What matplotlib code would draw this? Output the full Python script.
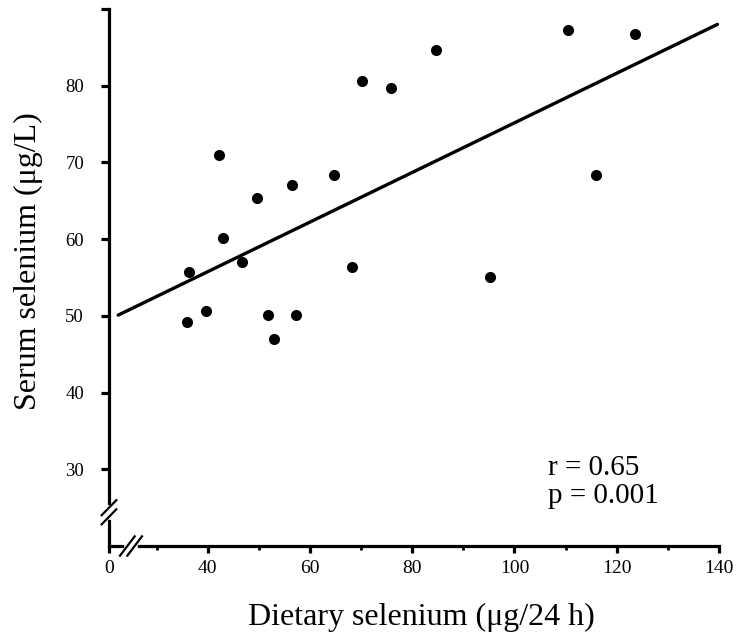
import matplotlib
matplotlib.use("Agg")
import matplotlib.pyplot as plt
import numpy as np

# ---- data ----
dietary_se = [36.0, 36.4, 39.7, 42.2, 43.0, 46.8, 49.6, 51.8, 52.9, 56.4,
              57.2, 64.7, 68.3, 70.2, 75.9, 84.6, 95.3, 110.4, 116.0, 123.6]
serum_se = [49.2, 55.7, 50.6, 71.0, 60.1, 57.0, 65.4, 50.1, 47.0, 67.1,
            50.1, 68.4, 56.4, 80.6, 79.7, 84.7, 55.1, 87.3, 68.4, 86.7]

fit_intercept = 42.82
fit_slope = 0.3234
fit_x_range = [22.5, 139.7]

x_origin = 20.7          # where the broken axis shows "0"
x_major = [40, 60, 80, 100, 120, 140]
x_minor = [30, 50, 70, 90, 110, 130]
x_labels = ["0", "40", "60", "80", "100", "120", "140"]
y_major = [30, 40, 50, 60, 70, 80, 90]
y_labels = ["30", "40", "50", "60", "70", "80", ""]

annot = "r = 0.65\np = 0.001"
xlabel = "Dietary selenium (\u03bcg/24 h)"
ylabel = "Serum selenium (\u03bcg/L)"

plt.rcParams['font.family'] = ['Liberation Serif', 'DejaVu Serif']

W, H = 739, 634
fig = plt.figure(figsize=(W / 100, H / 100), dpi=100)
ax = fig.add_axes([109 / W, (H - 546) / H, 610 / W, 537 / H])

ax.scatter(dietary_se, serum_se, s=64, color='black', zorder=3, linewidths=0)
fx = np.array(fit_x_range)
ax.plot(fx, fit_intercept + fit_slope * fx, color='black', lw=2.4,
        solid_capstyle='round', zorder=2)

ax.set_xlim(x_origin, 140)
ax.set_ylim(20, 90)

ax.set_xticks([x_origin] + x_major)
ax.set_xticklabels(x_labels)
ax.set_xticks(x_minor, minor=True)
ax.set_yticks(y_major)
ax.set_yticklabels(y_labels)

for s in ['top', 'right']:
    ax.spines[s].set_visible(False)
for s in ['left', 'bottom']:
    ax.spines[s].set_linewidth(2.3)

ax.tick_params(axis='x', which='major', direction='out', width=2.3,
               length=5, labelsize=14, pad=5)
ax.tick_params(axis='y', which='major', direction='out', width=2.3,
               length=6, labelsize=13.5, pad=12)
ax.tick_params(axis='x', which='minor', direction='out', width=2.0, length=3)

ax.set_xlabel(xlabel, fontsize=23)
ax.set_ylabel(ylabel, fontsize=23)
ax.xaxis.set_label_coords((421 - 109) / 610, (546 - 617) / 537)
ax.yaxis.set_label_coords((28 - 109) / 610, (546 - 261) / 537)
ax.xaxis.label.set_va('center')
ax.yaxis.label.set_va('center')

ax.text((548 - 109) / 610, (546 - 482) / 537, annot, transform=ax.transAxes,
        fontsize=21, ha='left', va='center', linespacing=1.1)

trans = ax.transAxes
# y-axis break
yb = (24.4 - 20) / 70
ax.plot([0, 0], [yb - 0.008, yb + 0.008], transform=trans, color='white',
        lw=4, clip_on=False, zorder=4)
for dy in (-0.0085, 0.0085):
    ax.plot([-0.012, 0.012], [yb + dy - 0.014, yb + dy + 0.014], transform=trans,
            color='black', lw=1.6, clip_on=False, zorder=5)
# x-axis break
xb = (131 - 109) / 610
ax.plot([xb - 0.006, xb + 0.006], [0, 0], transform=trans, color='white',
        lw=4, clip_on=False, zorder=4)
for dx in (-0.006, 0.006):
    ax.plot([xb + dx - 0.012, xb + dx + 0.012], [-0.018, 0.018], transform=trans,
            color='black', lw=1.6, clip_on=False, zorder=5)

fig.savefig("out.png", dpi=100)
